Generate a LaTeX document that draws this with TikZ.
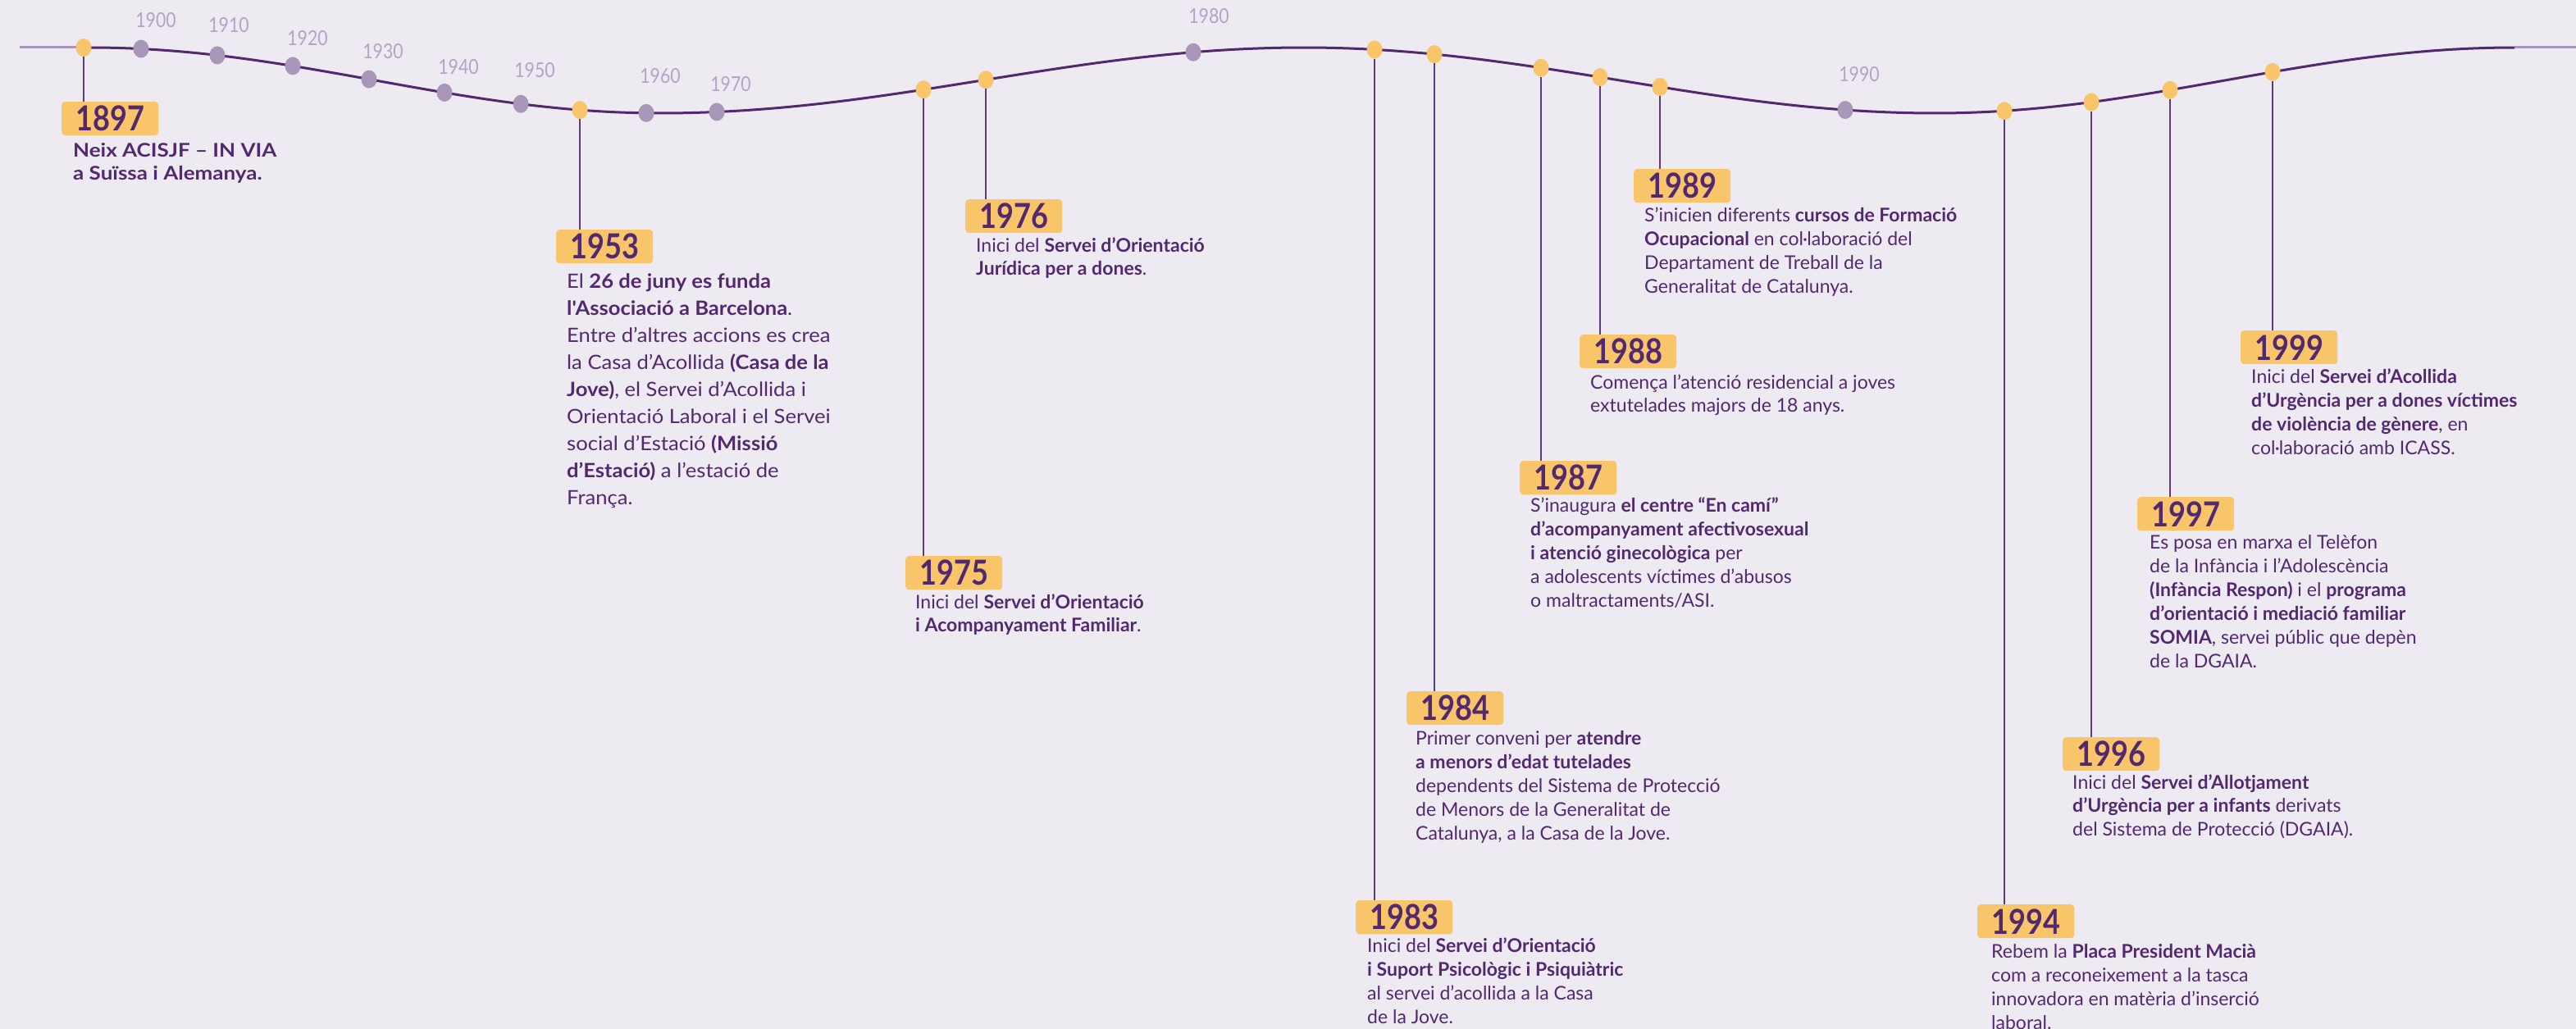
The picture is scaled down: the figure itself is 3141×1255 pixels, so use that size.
\documentclass[tikz,border=0pt]{standalone}
\usepackage{fontspec}
\setmainfont{Lato}
\newfontfamily\bodyfont{Lato}
\newfontfamily\widefont[FakeStretch=1.13]{Lato}
\newfontfamily\midfont[FakeStretch=1.066]{Lato}
\newfontfamily\yearfont[FakeStretch=0.86]{Lato}
\newfontfamily\decfont[FakeStretch=0.85]{Lato}
\usetikzlibrary{shapes.geometric}
\definecolor{bgc}{HTML}{EDEAF1}
\definecolor{dpurple}{HTML}{52296E}
\definecolor{cpurple}{HTML}{5E3A7E}
\definecolor{mpurple}{HTML}{A897B9}
\definecolor{lpurple}{HTML}{A995B8}
\definecolor{labpurple}{HTML}{B5A3C5}
\definecolor{dyellow}{HTML}{F8C56A}
\tikzset{
 wavepath/.style={draw=dpurple, line width=3pt},
 endline/.style={draw=lpurple, line width=3pt},
 evdot/.style={ellipse, fill=dyellow, minimum width=19pt, minimum height=22pt, inner sep=0pt},
 decdot/.style={ellipse, fill=mpurple, minimum width=19pt, minimum height=22pt, inner sep=0pt},
 declab/.style={text=labpurple, font=\decfont\fontsize{25}{25}\selectfont, inner sep=0pt},
 yearbox/.style={fill=dyellow, rounded corners=4pt, minimum width=118pt, minimum height=41pt, inner sep=0pt, text=dpurple, font=\yearfont\bfseries\fontsize{42}{42}\selectfont, anchor=north west},
 desc/.style={text=dpurple, font=\bodyfont\fontsize{23}{29}\selectfont, align=left, inner sep=0pt, anchor=base west},
 conn/.style={draw=cpurple, line width=2pt},
}
\begin{document}
\begin{tikzpicture}[x=1pt,y=-1pt,
 declare function={wy(\x)=(\x<110) ? 58 : ((\x<805) ? 98-40*cos((\x-110)/695*180) : ((\x<1590) ? 98+40*cos((\x-805)/785*180) : ((\x<2360) ? 98-40*cos((\x-1590)/770*180) : ((\x<3066) ? 98+40*cos((\x-2360)/706*180) : 58))));}]
\fill[bgc] (0,0) rectangle (3141,1255);
\useasboundingbox (0,0) rectangle (3141,1255);
% timeline
\draw[endline] (24,58) -- (102,58);
\draw[endline] (3066,58) -- (3141,58);
\draw[wavepath] plot[domain=102:3066, samples=600, variable=\t] (\t,{wy(\t)});
% decade markers
\node[decdot] (k1900) at (172,{wy(172)}) {};
\node[decdot] (k1910) at (265,{wy(265)}) {};
\node[decdot] (k1920) at (357,{wy(357)}) {};
\node[decdot] (k1930) at (450,{wy(450)}) {};
\node[decdot] (k1940) at (542,{wy(542)}) {};
\node[decdot] (k1950) at (635,{wy(635)}) {};
\node[decdot] (k1960) at (788,{wy(788)}) {};
\node[decdot] (k1970) at (874,{wy(874)}) {};
\node[decdot] (k1980) at (1455,{wy(1455)}) {};
\node[decdot] (k1990) at (2250,{wy(2250)}) {};
\node[declab] (l1900) at (190,25) {1900};
\node[declab] (l1910) at (279,31) {1910};
\node[declab] (l1920) at (375,47) {1920};
\node[declab] (l1930) at (467,63) {1930};
\node[declab] (l1940) at (559,82) {1940};
\node[declab] (l1950) at (652,86) {1950};
\node[declab] (l1960) at (805,93) {1960};
\node[declab] (l1970) at (891,103) {1970};
\node[declab] (l1980) at (1474,20) {1980};
\node[declab] (l1990) at (2267,91) {1990};
% event dots
\node[evdot] (e1897) at (102,{wy(102)}) {};
\node[evdot] (e1953) at (707,{wy(707)}) {};
\node[evdot] (e1975) at (1126,{wy(1126)}) {};
\node[evdot] (e1976) at (1202,{wy(1202)}) {};
\node[evdot] (e1983) at (1676,{wy(1676)}) {};
\node[evdot] (e1984) at (1749,{wy(1749)}) {};
\node[evdot] (e1987) at (1879,{wy(1879)}) {};
\node[evdot] (e1988) at (1951,{wy(1951)}) {};
\node[evdot] (e1989) at (2024,{wy(2024)}) {};
\node[evdot] (e1994) at (2444,{wy(2444)}) {};
\node[evdot] (e1996) at (2550,{wy(2550)}) {};
\node[evdot] (e1997) at (2646,{wy(2646)}) {};
\node[evdot] (e1999) at (2771,{wy(2771)}) {};
% year boxes
\node[yearbox] (b1897) at (75,124) {1897};
\node[yearbox] (b1953) at (678,280) {1953};
\node[yearbox] (b1976) at (1177,243) {1976};
\node[yearbox] (b1975) at (1104,678) {1975};
\node[yearbox] (b1989) at (1992,206) {1989};
\node[yearbox] (b1988) at (1926,408) {1988};
\node[yearbox] (b1987) at (1853,562) {1987};
\node[yearbox] (b1984) at (1715,843) {1984};
\node[yearbox] (b1983) at (1653,1098) {1983};
\node[yearbox] (b1994) at (2411,1103) {1994};
\node[yearbox] (b1999) at (2732,403) {1999};
\node[yearbox] (b1997) at (2606,606) {1997};
\node[yearbox] (b1996) at (2515,899) {1996};
% descriptions (anchored at the baseline of their last line)
\node[desc, font=\widefont\bfseries\fontsize{23}{28}\selectfont] (t1897) at (89,219) {Neix ACISJF – IN VIA\\a Suïssa i Alemanya.};
\node[desc, font=\midfont\fontsize{24}{33}\selectfont] (t1953) at (691,615) {El \textbf{26 de juny es funda}\\\textbf{l'Associació a Barcelona}.\\Entre d’altres accions es crea\\la Casa d’Acollida \textbf{(Casa de la}\\\textbf{Jove)}, el Servei d’Acollida i\\Orientació Laboral i el Servei\\social d’Estació \textbf{(Missió}\\\textbf{d’Estació)} a l’estació de\\França.};
\node[desc, font=\bodyfont\fontsize{23}{28}\selectfont] (t1976) at (1190,335) {Inici del \textbf{Servei d’Orientació}\\\textbf{Jurídica per a dones}.};
\node[desc, font=\bodyfont\fontsize{23}{28}\selectfont] (t1975) at (1116,770) {Inici del \textbf{Servei d’Orientació}\\\textbf{i Acompanyament Familiar}.};
\node[desc] (t1989) at (2005,357) {S’inicien diferents \textbf{cursos de Formació}\\\textbf{Ocupacional} en col·laboració del\\Departament de Treball de la\\Generalitat de Catalunya.};
\node[desc, font=\bodyfont\fontsize{23}{28}\selectfont] (t1988) at (1939,502) {Comença l’atenció residencial a joves\\extutelades majors de 18 anys.};
\node[desc] (t1987) at (1866,740) {S’inaugura \textbf{el centre “En camí”}\\\textbf{d’acompanyament afectivosexual}\\\textbf{i atenció ginecològica} per\\a adolescents víctimes d’abusos\\o maltractaments/ASI.};
\node[desc] (t1984) at (1726,1024) {Primer conveni per \textbf{atendre}\\\textbf{a menors d’edat tutelades}\\dependents del Sistema de Protecció\\de Menors de la Generalitat de\\Catalunya, a la Casa de la Jove.};
\node[desc] (t1983) at (1667,1248) {Inici del \textbf{Servei d’Orientació}\\\textbf{i Suport Psicològic i Psiquiàtric}\\al servei d’acollida a la Casa\\de la Jove.};
\node[desc] (t1994) at (2428,1255) {Rebem la \textbf{Placa President Macià}\\com a reconeixement a la tasca\\innovadora en matèria d’inserció\\laboral.};
\node[desc] (t1999) at (2745,554) {Inici del \textbf{Servei d’Acollida}\\\textbf{d’Urgència per a dones víctimes}\\\textbf{de violència de gènere}, en\\col·laboració amb ICASS.};
\node[desc] (t1997) at (2621,814) {Es posa en marxa el Telèfon\\de la Infància i l’Adolescència\\\textbf{(Infància Respon)} i el \textbf{programa}\\\textbf{d’orientació i mediació familiar}\\\textbf{SOMIA}, servei públic que depèn\\de la DGAIA.};
\node[desc, font=\bodyfont\fontsize{23}{28.5}\selectfont] (t1996) at (2527,1019) {Inici del \textbf{Servei d’Allotjament}\\\textbf{d’Urgència per a infants} derivats\\del Sistema de Protecció (DGAIA).};
% connectors
\draw[conn] (e1897) -- (e1897 |- b1897.north);
\draw[conn] (e1953) -- (e1953 |- b1953.north);
\draw[conn] (e1976) -- (e1976 |- b1976.north);
\draw[conn] (e1975) -- (e1975 |- b1975.north);
\draw[conn] (e1989) -- (e1989 |- b1989.north);
\draw[conn] (e1988) -- (e1988 |- b1988.north);
\draw[conn] (e1987) -- (e1987 |- b1987.north);
\draw[conn] (e1984) -- (e1984 |- b1984.north);
\draw[conn] (e1983) -- (e1983 |- b1983.north);
\draw[conn] (e1994) -- (e1994 |- b1994.north);
\draw[conn] (e1999) -- (e1999 |- b1999.north);
\draw[conn] (e1997) -- (e1997 |- b1997.north);
\draw[conn] (e1996) -- (e1996 |- b1996.north);
\end{tikzpicture}
\end{document}
